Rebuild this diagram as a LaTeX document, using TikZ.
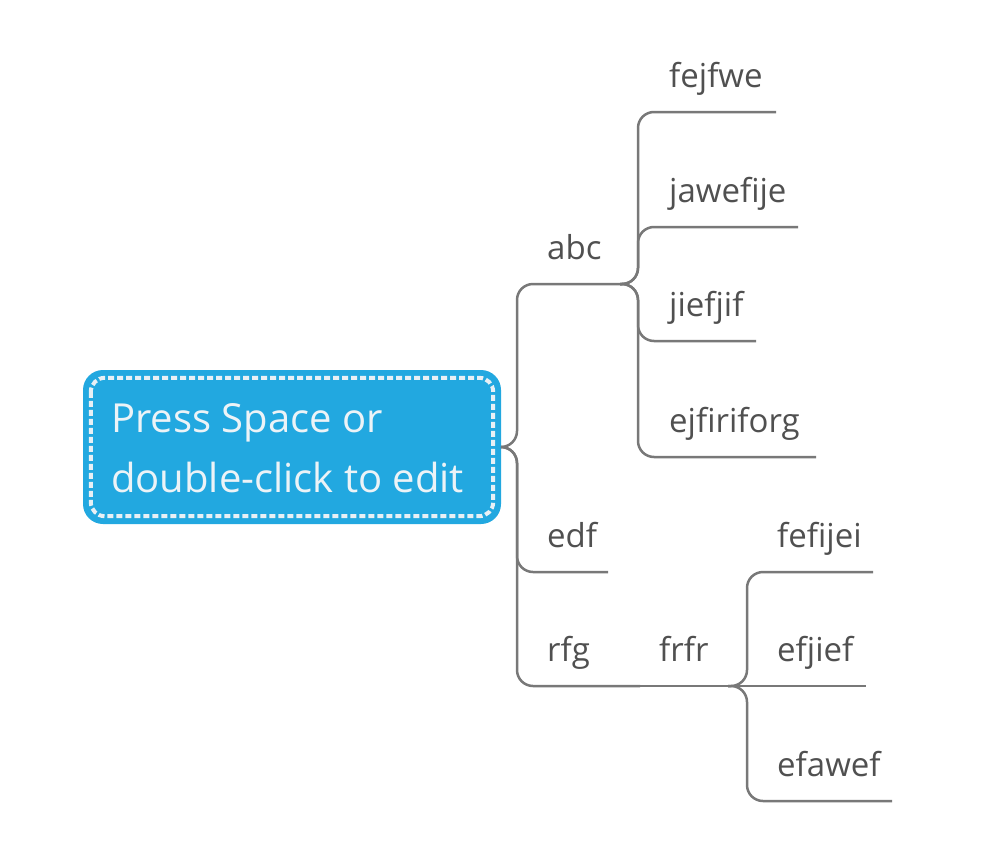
\documentclass[tikz,border=0pt]{standalone}
\usepackage{fontspec}
\setmainfont{Open Sans}
\definecolor{boxblue}{RGB}{34,168,224}
\definecolor{boxtext}{RGB}{236,243,247}
\definecolor{dashwhite}{RGB}{232,240,245}
\definecolor{linegray}{RGB}{120,120,120}
\definecolor{labelgray}{RGB}{80,80,80}
\begin{document}
\begin{tikzpicture}[x=1pt,y=-1pt,
  conn/.style={draw=linegray,line width=2.5pt,rounded corners=16pt},
  lab/.style={anchor=base west,inner sep=0pt,text=labelgray,font=\fontsize{33}{38}\selectfont},
  centralbox/.style={fill=boxblue,rounded corners=20pt,minimum width=418pt,minimum height=154pt,inner sep=0pt},
]
\useasboundingbox[fill=white] (0,0) rectangle (985,862);
% central topic
\node[centralbox] (root) at (292,447) {};
\draw[dashwhite,line width=4pt,dash pattern=on 6pt off 3pt,rounded corners=14pt]
  ([xshift=8pt,yshift=-8pt]root.north west) rectangle ([xshift=-8pt,yshift=8pt]root.south east);
\node[anchor=base west,inner sep=0pt,text=boxtext,font=\fontsize{40}{60}\selectfont,align=left] (roottext) at (111,492)
  {Press Space or\\double-click to edit};
\coordinate (rj) at (501,447);
% first level
\node[lab] (abc) at (547,259) {abc};
\node[lab] (edf) at (547,547) {edf};
\node[lab] (rfg) at (547,661) {rfg};
\coordinate (abcj) at (620,284);
\coordinate (edfe) at (608,572);
\coordinate (rfge) at (640,686);
\draw[conn] (rj) -| (517,284) -- (abcj);
\draw[conn] (rj) -| (517,572) -- (edfe);
\draw[conn] (rj) -| (517,686) -- (rfge);
% abc children
\node[lab] (c1) at (669,87) {fejfwe};
\node[lab] (c2) at (669,202) {jawefije};
\node[lab] (c3) at (669,316) {jiefjif};
\node[lab] (c4) at (669,432) {ejfiriforg};
\coordinate (c1e) at (776,112);
\coordinate (c2e) at (798,227);
\coordinate (c3e) at (756,341);
\coordinate (c4e) at (816,457);
\draw[conn] (abcj) -| (638,112) -- (c1e);
\draw[conn] (abcj) -| (638,227) -- (c2e);
\draw[conn] (abcj) -| (638,341) -- (c3e);
\draw[conn] (abcj) -| (638,457) -- (c4e);
% rfg child
\node[lab] (frfr) at (659,661) {frfr};
\coordinate (frfrj) at (728,686);
\draw[conn] (rfge) -- (frfrj);
% frfr children
\node[lab] (d1) at (777,547) {fefijei};
\node[lab] (d2) at (777,661) {efjief};
\node[lab] (d3) at (777,776) {efawef};
\coordinate (d1e) at (873,572);
\coordinate (d2e) at (866,686);
\coordinate (d3e) at (892,801);
\draw[conn] (frfrj) -| (747,572) -- (d1e);
\draw[conn] (frfrj) -- (d2e);
\draw[conn] (frfrj) -| (747,801) -- (d3e);
\end{tikzpicture}
\end{document}
